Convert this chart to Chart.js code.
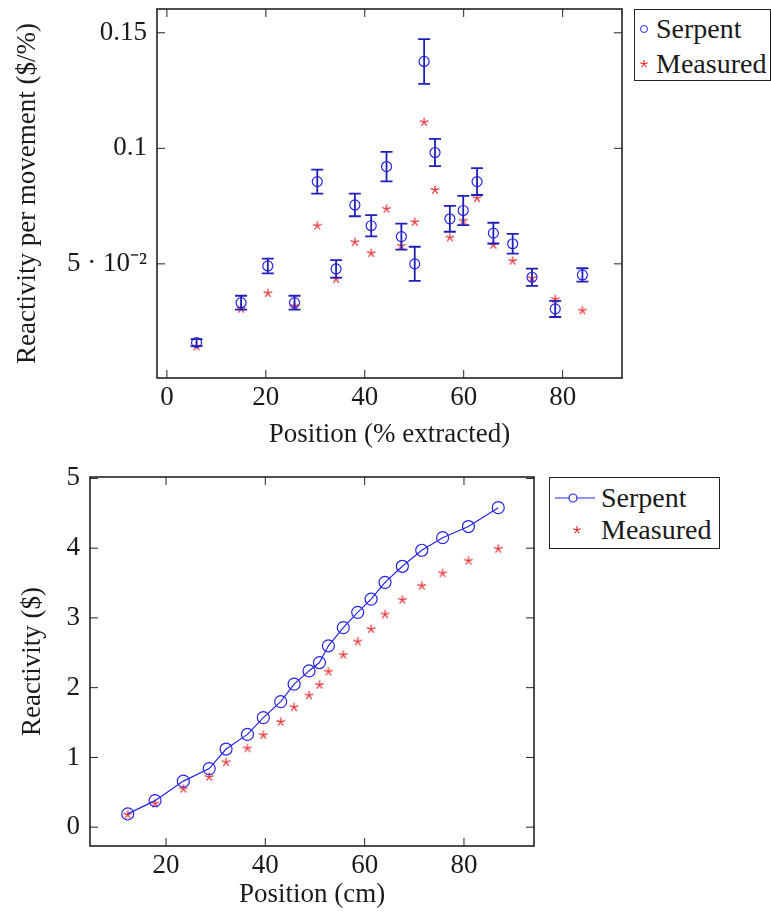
<!DOCTYPE html>
<html>
<head>
<meta charset="utf-8">
<script src="https://cdn.jsdelivr.net/npm/chart.js@4.4.1/dist/chart.umd.min.js"></script>
<style>
  body { margin: 0; width: 771px; height: 917px; overflow: hidden; background: #fff; font-family: 'Liberation Serif', serif; }
  canvas { position: absolute; left: 0; }
  #topChart { top: 0; }
  #botChart { top: 460px; }
  .legend { position: absolute; border: 1.5px solid #222; background: #fff; font-family: 'Liberation Serif', serif; font-size: 28px; color: #1a1a1a; box-sizing: border-box; }
  .legend .row { display: flex; align-items: center; white-space: nowrap; }
  #legTop { left: 634px; top: 9px; width: 137px; height: 72px; padding-top: 1px; }
  #legTop .row { height: 35px; }
  #legTop svg { margin-left: 4px; margin-right: 7px; }
  #legBot { left: 549px; top: 477px; width: 171px; height: 72px; padding-top: 4px; }
  #legBot .row { height: 32px; }
  #legBot svg { margin-left: 5px; margin-right: 4px; }
</style>
</head>
<body>
<canvas id="topChart" width="771" height="460"></canvas>
<canvas id="botChart" width="771" height="457"></canvas>

<div class="legend" id="legTop">
  <div class="row"><svg width="10" height="12"><circle cx="5" cy="6" r="3.5" fill="none" stroke="#2626e6" stroke-width="1"/></svg>Serpent</div>
  <div class="row"><svg width="10" height="12"><path d="M5 6L5 2M5 6L8.8 4.8M5 6L7.3 9.2M5 6L2.7 9.2M5 6L1.2 4.8" stroke="#e8262a" stroke-width="1.1" fill="none"/></svg>Measured</div>
</div>
<div class="legend" id="legBot">
  <div class="row"><svg width="42" height="14"><line x1="0" y1="7" x2="40" y2="7" stroke="#2626e6" stroke-width="1.2"/><circle cx="18" cy="7" r="4" fill="#fff" stroke="#2626e6" stroke-width="1.2"/></svg>Serpent</div>
  <div class="row"><svg width="42" height="14"><path d="M22 7L22 3M22 7L25.8 5.8M22 7L24.3 10.2M22 7L19.7 10.2M22 7L18.2 5.8" stroke="#e8262a" stroke-width="1.1" fill="none"/></svg>Measured</div>
</div>

<script>
// grafico de cima: reatividade por movimento
const posPct = [6, 15, 20.4, 25.8, 30.4, 34.2, 38, 41.3, 44.4, 47.4, 50.1, 52, 54.2, 57.2, 59.9, 62.7, 66, 69.9, 73.8, 78.5, 84];
const serpentPct = [0.0159, 0.0332, 0.0491, 0.0332, 0.0856, 0.0478, 0.0755, 0.0665, 0.0921, 0.0618, 0.0500, 0.1376, 0.0982, 0.0695, 0.0731, 0.0856, 0.0633, 0.0587, 0.0442, 0.0305, 0.0452];
const serpentErr = [0.0015, 0.003, 0.0032, 0.003, 0.0052, 0.0038, 0.0049, 0.0046, 0.0064, 0.0056, 0.0074, 0.0097, 0.0059, 0.0056, 0.0063, 0.0058, 0.0045, 0.0043, 0.0037, 0.0035, 0.0029];
const measuredPct = [0.0142, 0.0305, 0.0373, 0.0318, 0.0665, 0.0434, 0.0594, 0.0546, 0.0738, 0.0578, 0.0681, 0.1113, 0.0820, 0.0614, 0.0687, 0.0784, 0.0582, 0.0513, 0.0438, 0.0347, 0.0298];
const topXTicks = [0, 20, 40, 60, 80];
const topYTicks = [0.05, 0.1, 0.15];
const topYLabels = ['5 · 10⁻²', '0.1', '0.15'];

// grafico de baixo: reatividade integral
const posCm = [12.3, 17.8, 23.5, 28.7, 32.1, 36.4, 39.6, 43.1, 45.8, 48.8, 50.9, 52.7, 55.7, 58.6, 61.3, 64.1, 67.6, 71.5, 75.7, 80.9, 86.9];
const serpentCm = [0.19, 0.38, 0.66, 0.84, 1.12, 1.33, 1.57, 1.80, 2.05, 2.24, 2.36, 2.60, 2.86, 3.08, 3.27, 3.51, 3.74, 3.97, 4.15, 4.31, 4.58];
const measuredCm = [0.18, 0.34, 0.55, 0.72, 0.93, 1.13, 1.32, 1.51, 1.72, 1.89, 2.04, 2.23, 2.47, 2.66, 2.84, 3.05, 3.26, 3.46, 3.64, 3.82, 3.99];
const botXTicks = [20, 40, 60, 80];
const botYTicks = [0, 1, 2, 3, 4, 5];

const BLUE = '#2626e6';
const RED = '#e8262a';
const FONT = "'Liberation Serif', serif";
const TXT = '#1a1a1a';

Chart.defaults.font.family = FONT;

// estrela de 5 pontas (asterisco) como pointStyle
function makeStar(r) {
  const c = document.createElement('canvas');
  const s = Math.ceil(r * 2 + 3);
  c.width = s; c.height = s;
  const g = c.getContext('2d');
  g.strokeStyle = RED;
  g.lineWidth = 1.2;
  g.beginPath();
  for (let k = 0; k < 5; k++) {
    const a = -Math.PI / 2 + k * 2 * Math.PI / 5;
    g.moveTo(s / 2, s / 2);
    g.lineTo(s / 2 + r * Math.cos(a), s / 2 + r * Math.sin(a));
  }
  g.stroke();
  return c;
}

const pts = (xs, ys) => xs.map((x, i) => ({ x: x, y: ys[i] }));

// caixa + marcas de escala para dentro nos quatro lados
const boxPlugin = {
  id: 'box',
  afterDraw(chart) {
    const { ctx, chartArea: a, scales: { x, y } } = chart;
    const len = 8;
    ctx.save();
    ctx.strokeStyle = '#222';
    ctx.lineWidth = 1;
    ctx.beginPath();
    x.ticks.forEach(t => {
      const px = x.getPixelForValue(t.value);
      ctx.moveTo(px, a.bottom); ctx.lineTo(px, a.bottom - len);
      ctx.moveTo(px, a.top); ctx.lineTo(px, a.top + len);
    });
    y.ticks.forEach(t => {
      const py = y.getPixelForValue(t.value);
      ctx.moveTo(a.left, py); ctx.lineTo(a.left + len, py);
      ctx.moveTo(a.right, py); ctx.lineTo(a.right - len, py);
    });
    ctx.stroke();
    ctx.lineWidth = 1.6;
    ctx.strokeRect(a.left, a.top, a.right - a.left, a.bottom - a.top);
    ctx.restore();
  }
};

// barras de erro
const errPlugin = {
  id: 'errbars',
  afterDatasetsDraw(chart) {
    const { ctx, scales: { x, y } } = chart;
    chart.data.datasets.forEach(ds => {
      if (!ds.errors) return;
      ctx.save();
      ctx.strokeStyle = '#2020b8';
      ctx.lineWidth = 1.8;
      ctx.beginPath();
      ds.data.forEach((p, i) => {
        const px = x.getPixelForValue(p.x);
        const y1 = y.getPixelForValue(p.y + ds.errors[i]);
        const y2 = y.getPixelForValue(p.y - ds.errors[i]);
        ctx.moveTo(px, y1); ctx.lineTo(px, y2);
        ctx.moveTo(px - 6, y1); ctx.lineTo(px + 6, y1);
        ctx.moveTo(px - 6, y2); ctx.lineTo(px + 6, y2);
      });
      ctx.stroke();
      ctx.restore();
    });
  }
};

function axisX(cfg) {
  return {
    type: 'linear',
    min: cfg.min, max: cfg.max,
    grid: { display: false, drawTicks: false },
    border: { display: false },
    afterBuildTicks: s => { s.ticks = cfg.ticks.map(v => ({ value: v })); },
    afterFit: s => { s.height = cfg.size; s.paddingLeft = 0; s.paddingRight = 0; },
    ticks: { padding: cfg.tickPad, color: TXT, font: { family: FONT, size: 27 }, maxRotation: 0,
             callback: v => String(v) },
    title: { display: true, text: cfg.title, color: TXT, font: { family: FONT, size: 27 },
             padding: { top: 0, bottom: cfg.titlePad } }
  };
}
function axisY(cfg) {
  return {
    type: 'linear',
    min: cfg.min, max: cfg.max,
    grid: { display: false, drawTicks: false },
    border: { display: false },
    afterBuildTicks: s => { s.ticks = cfg.ticks.map(v => ({ value: v })); },
    afterFit: s => { s.width = cfg.size; s.paddingTop = 0; s.paddingBottom = 0; },
    ticks: { padding: 10, color: TXT, font: { family: FONT, size: 27 },
             callback: (v, i) => cfg.labels ? cfg.labels[i] : String(v) },
    title: { display: true, text: cfg.title, color: TXT, font: { family: FONT, size: 27 },
             padding: { top: cfg.titlePad, bottom: 0 } }
  };
}

new Chart(document.getElementById('topChart').getContext('2d'), {
  type: 'scatter',
  data: {
    datasets: [
      { label: 'Serpent', data: pts(posPct, serpentPct), errors: serpentErr,
        pointStyle: 'circle', pointRadius: 5, borderColor: BLUE, backgroundColor: 'rgba(0,0,0,0)', borderWidth: 1.2 },
      { label: 'Measured', data: pts(posPct, measuredPct),
        pointStyle: makeStar(4.5), pointRadius: 5 }
    ]
  },
  options: {
    responsive: false,
    animation: false,
    layout: { padding: { top: 9, right: 149, left: 0, bottom: 0 } },
    plugins: { legend: { display: false }, tooltip: { enabled: false } },
    scales: {
      x: axisX({ min: -2, max: 92, ticks: topXTicks, size: 82, tickPad: 4, title: 'Position (% extracted)', titlePad: 9 }),
      y: axisY({ min: 0.0006, max: 0.1603, ticks: topYTicks, labels: topYLabels, size: 157, title: 'Reactivity per movement ($/%)', titlePad: 12 })
    }
  },
  plugins: [errPlugin, boxPlugin]
});

new Chart(document.getElementById('botChart').getContext('2d'), {
  type: 'scatter',
  data: {
    datasets: [
      { label: 'Serpent', data: pts(posCm, serpentCm), showLine: true,
        pointStyle: 'circle', pointRadius: 6, borderColor: BLUE, backgroundColor: 'rgba(0,0,0,0)', borderWidth: 1.2 },
      { label: 'Measured', data: pts(posCm, measuredCm),
        pointStyle: makeStar(4.5), pointRadius: 5 }
    ]
  },
  options: {
    responsive: false,
    animation: false,
    layout: { padding: { top: 17, right: 237, left: 0, bottom: 0 } },
    plugins: { legend: { display: false }, tooltip: { enabled: false } },
    scales: {
      x: axisX({ min: 4.7, max: 94.1, ticks: botXTicks, size: 71, tickPad: 4, title: 'Position (cm)', titlePad: 6 }),
      y: axisY({ min: -0.27, max: 5.02, ticks: botYTicks, size: 90, title: 'Reactivity ($)', titlePad: 17 })
    }
  },
  plugins: [boxPlugin]
});
</script>
</body>
</html>
